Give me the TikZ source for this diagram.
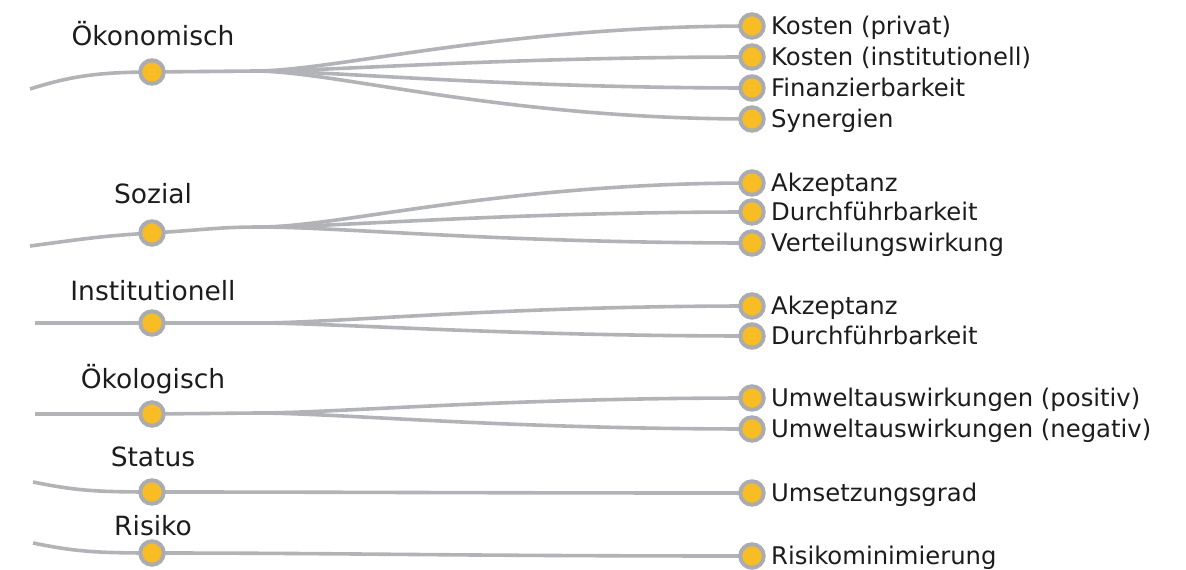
\documentclass[tikz,border=0pt]{standalone}
\usepackage{fontspec}
\setmainfont{DejaVu Sans}
\usetikzlibrary{backgrounds}
\definecolor{lgray}{RGB}{177,179,182}
\definecolor{dgray}{RGB}{170,172,175}
\definecolor{dyellow}{RGB}{248,188,36}
\definecolor{txt}{RGB}{30,27,28}
\begin{document}
\begin{tikzpicture}[x=1pt,y=-1pt,
 dot/.style={circle,fill=dyellow,draw=dgray,line width=4pt,minimum size=23.5pt,inner sep=0pt},
 conn/.style={draw=lgray,line width=3.6pt},
 br/.style={to path={.. controls +(80,0) and +(-250,0) .. (\tikztotarget)}},
 cat/.style={anchor=base,inner sep=0pt,text=txt,font=\fontsize{26.5}{28}\selectfont},
 item/.style={anchor=base west,inner sep=0pt,text=txt,font=\fontsize{24.3}{26}\selectfont}]
\useasboundingbox (0,0) rectangle (1186,570);

% ---- left category dots
\node[dot] (n1) at (152,72) {};
\node[dot] (n2) at (152,233) {};
\node[dot] (n3) at (152,323) {};
\node[dot] (n4) at (152,414) {};
\node[dot] (n5) at (152,492) {};
\node[dot] (n6) at (152,553) {};

% ---- right item dots
\node[dot] (r11) at (752,26) {};
\node[dot] (r12) at (752,57) {};
\node[dot] (r13) at (752,88) {};
\node[dot] (r14) at (752,119) {};
\node[dot] (r21) at (752,183) {};
\node[dot] (r22) at (752,212) {};
\node[dot] (r23) at (752,243) {};
\node[dot] (r31) at (752,306) {};
\node[dot] (r32) at (752,336) {};
\node[dot] (r41) at (752,398) {};
\node[dot] (r42) at (752,429) {};
\node[dot] (r51) at (752,493) {};
\node[dot] (r61) at (752,556) {};

% ---- category labels
\node[cat] (t1) at (153,45) {Ökonomisch};
\node[cat] (t2) at (153,203) {Sozial};
\node[cat] (t3) at (153,300.7) {Institutionell};
\node[cat] (t4) at (153,388.3) {Ökologisch};
\node[cat] (t5) at (153,466) {Status};
\node[cat] (t6) at (153,535) {Risiko};

% ---- item labels
\node[item] (l11) at (771,34.5) {Kosten (privat)};
\node[item] (l12) at (771,65.5) {Kosten (institutionell)};
\node[item] (l13) at (771,96.5) {Finanzierbarkeit};
\node[item] (l14) at (771,127.5) {Synergien};
\node[item] (l21) at (771,191.5) {Akzeptanz};
\node[item] (l22) at (771,220.5) {Durchführbarkeit};
\node[item] (l23) at (771,251.5) {Verteilungswirkung};
\node[item] (l31) at (771,314.5) {Akzeptanz};
\node[item] (l32) at (771,344.5) {Durchführbarkeit};
\node[item] (l41) at (771,406.5) {Umweltauswirkungen (positiv)};
\node[item] (l42) at (771,437.5) {Umweltauswirkungen (negativ)};
\node[item] (l51) at (771,501.5) {Umsetzungsgrad};
\node[item] (l61) at (771,564.5) {Risikominimierung};

% ---- free ends and split points
\coordinate (a1) at (30,89);
\coordinate (a2) at (30,246);
\coordinate (a3) at (35,323);
\coordinate (a4) at (35,414);
\coordinate (a5) at (33,482);
\coordinate (a6) at (33,543);
\coordinate (s1) at (255,71);
\coordinate (s2) at (260,227);
\coordinate (s3) at (257,323);
\coordinate (s4) at (257,413);

\begin{pgfonlayer}{background}
% Oekonomisch
\draw[conn] (a1) .. controls +(35,-11) and +(-60,0) .. (n1.center) -- (s1);
\foreach \r in {r11,r12,r13,r14} \draw[conn] (s1) to[br] (\r.center);
% Sozial
\draw[conn] (a2) .. controls +(60,-8) and +(-50,3) .. (n2.center) .. controls +(50,-3) and +(-40,0) .. (s2);
\foreach \r in {r21,r22,r23} \draw[conn] (s2) to[br] (\r.center);
% Institutionell
\draw[conn] (a3) -- (n3.center) -- (s3);
\foreach \r in {r31,r32} \draw[conn] (s3) to[br] (\r.center);
% Oekologisch
\draw[conn] (a4) -- (n4.center) -- (s4);
\foreach \r in {r41,r42} \draw[conn] (s4) to[br] (\r.center);
% Status
\draw[conn] (a5) .. controls +(40,8) and +(-60,0) .. (n5.center);
\draw[conn] (n5.center) .. controls +(200,0) and +(-300,0) .. (r51.center);
% Risiko
\draw[conn] (a6) .. controls +(40,8) and +(-60,0) .. (n6.center);
\draw[conn] (n6.center) .. controls +(200,0) and +(-300,0) .. (r61.center);
\end{pgfonlayer}
\end{tikzpicture}
\end{document}
